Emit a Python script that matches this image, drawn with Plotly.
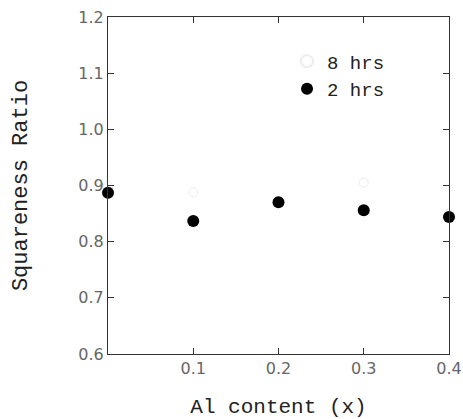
import plotly.graph_objects as go

al_content = [0.0, 0.1, 0.2, 0.3, 0.4]
ratio_8hrs = [0.900, 0.888, 0.870, 0.905, 0.850]
ratio_2hrs = [0.887, 0.837, 0.870, 0.856, 0.844]
x_ticks = [0.1, 0.2, 0.3, 0.4]
x_ticklabels = ["0.1", "0.2", "0.3", "0.4"]
y_ticks = [0.6, 0.7, 0.8, 0.9, 1.0, 1.1, 1.2]
y_ticklabels = ["0.6", "0.7", "0.8", "0.9", "1.0", "1.1", "1.2"]

fig = go.Figure()
fig.add_trace(go.Scatter(
    x=al_content, y=ratio_8hrs, mode="markers", name="8 hrs",
    marker=dict(symbol="circle-open", size=9, color="#ececec", line=dict(width=1)),
    cliponaxis=False,
))
fig.add_trace(go.Scatter(
    x=al_content, y=ratio_2hrs, mode="markers", name="2 hrs",
    marker=dict(symbol="circle", size=12, color="black"),
    cliponaxis=False,
))

axis_common = dict(
    showline=True, linecolor="#333", linewidth=1, mirror="ticks",
    ticks="inside", ticklen=6, tickcolor="#333", showgrid=False, zeroline=False,
    automargin=False,
    tickfont=dict(family="DejaVu Sans", size=16, color="#666"),
)
fig.update_xaxes(range=[0, 0.4], tickvals=x_ticks, ticktext=x_ticklabels,
                 title=dict(text="Al content (x)", font=dict(family="Liberation Mono", size=21, color="#222"), standoff=22),
                 **axis_common)
fig.update_yaxes(range=[0.6, 1.2], tickvals=y_ticks, ticktext=y_ticklabels,
                 title=dict(text="Squareness Ratio", font=dict(family="Liberation Mono", size=22, color="#222"), standoff=44),
                 **axis_common)

fig.update_layout(
    width=463, height=419,
    margin=dict(l=108, r=14, t=17, b=65),
    paper_bgcolor="white", plot_bgcolor="white",
    legend=dict(x=0.525, y=0.925, xanchor="left", yanchor="top",
                font=dict(family="Liberation Mono", size=19, color="#222"),
                bgcolor="rgba(0,0,0,0)", itemsizing="constant", tracegroupgap=0),
)
fig.write_html("out.html")
